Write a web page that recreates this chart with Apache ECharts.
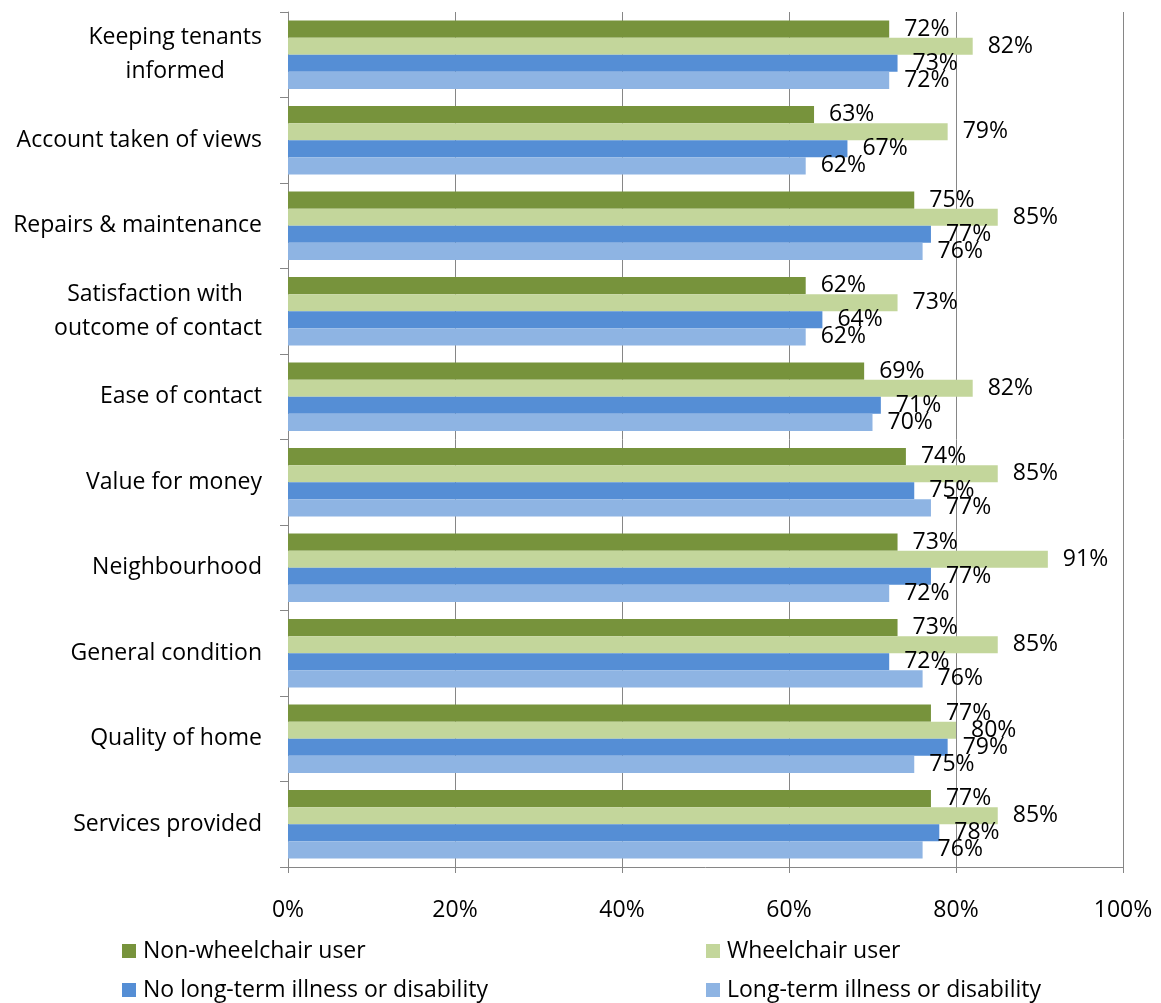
<!DOCTYPE html>
<html>
<head>
<meta charset="utf-8">
<script src="https://cdn.jsdelivr.net/npm/echarts@6/dist/echarts.min.js"></script>
<style>
  html, body { margin: 0; padding: 0; background: #fff; }
  #chart { width: 1161px; height: 1003px; }
</style>
</head>
<body>
<div id="chart"></div>
<script>
// Satisfaction measures, top to bottom
const categories = [
  'Keeping tenants\ninformed',
  'Account taken of views',
  'Repairs & maintenance',
  'Satisfaction with \noutcome of contact',
  'Ease of contact',
  'Value for money',
  'Neighbourhood',
  'General condition',
  'Quality of home',
  'Services provided'
];

const seriesNames = [
  'Non-wheelchair user',
  'Wheelchair user',
  'No long-term illness or disability',
  'Long-term illness or disability'
];

// Percent satisfied per measure, in category order
const nonWheelchair  = [72, 63, 75, 62, 69, 74, 73, 73, 77, 77];
const wheelchair     = [82, 79, 85, 73, 82, 85, 91, 85, 80, 85];
const noIllness      = [73, 67, 77, 64, 71, 75, 77, 72, 79, 78];
const illness        = [72, 62, 76, 62, 70, 77, 72, 76, 75, 76];

const xTicks = [0, 20, 40, 60, 80, 100];

const colors = ['#77933C', '#C3D69B', '#558ED5', '#8EB4E3'];
const values = [nonWheelchair, wheelchair, noIllness, illness];

const FONT = 'Open Sans';
const FS = 23;
const axisGray = '#868686';

// Legend laid out as a 2x2 block: [left, top] per series
const legendSpots = [[122, 939], [706, 939], [122, 978], [706, 978]];

const chart = echarts.init(document.getElementById('chart'), null, { renderer: 'canvas' });

chart.setOption({
  animation: false,
  backgroundColor: '#fff',
  textStyle: { fontFamily: FONT, color: '#000' },
  grid: { left: 288, right: 38, top: 12, bottom: 136, containLabel: false },
  xAxis: {
    type: 'value',
    min: xTicks[0],
    max: xTicks[xTicks.length - 1],
    interval: 20,
    axisLine: { show: true, lineStyle: { color: axisGray, width: 1 } },
    axisTick: { show: true, length: 6, lineStyle: { color: axisGray } },
    splitLine: { show: true, lineStyle: { color: axisGray, width: 1 } },
    axisLabel: {
      margin: 32,
      fontSize: FS,
      fontFamily: FONT,
      color: '#000',
      formatter: v => v + '%'
    }
  },
  yAxis: {
    type: 'category',
    inverse: true,
    data: categories,
    axisLine: { show: true, lineStyle: { color: axisGray, width: 1 } },
    axisTick: { show: true, length: 8, lineStyle: { color: axisGray } },
    axisLabel: {
      margin: 26,
      fontSize: FS,
      fontFamily: FONT,
      color: '#000',
      lineHeight: 34,
      align: 'right',
      formatter: v => v.split('\n').map(s => '{c|' + s + '}').join('\n'),
      rich: {
        c: { align: 'center', fontSize: FS, fontFamily: FONT, lineHeight: 34, color: '#000' }
      }
    }
  },
  legend: seriesNames.map((name, i) => ({
    data: [name],
    left: legendSpots[i][0],
    top: legendSpots[i][1],
    padding: 0,
    itemWidth: 14,
    itemHeight: 14,
    icon: 'rect',
    textStyle: { fontSize: FS, fontFamily: FONT, color: '#000', lineHeight: 24, padding: [0, 0, 0, 2] }
  })),
  series: seriesNames.map((name, i) => ({
    name,
    type: 'bar',
    data: values[i],
    itemStyle: { color: colors[i] },
    barGap: '0%',
    barCategoryGap: '20%',
    label: {
      show: true,
      position: 'right',
      distance: 15,
      fontSize: FS,
      fontFamily: FONT,
      color: '#000',
      formatter: p => p.value + '%'
    }
  }))
});
</script>
</body>
</html>
